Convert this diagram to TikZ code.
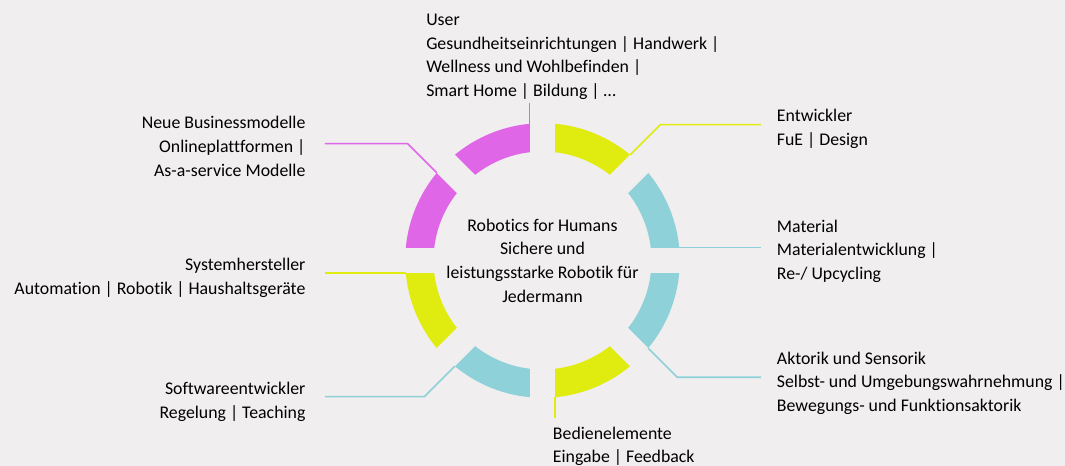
\documentclass[tikz,border=0pt]{standalone}
\usepackage{fontspec}
\setmainfont{Carlito}[Ligatures=NoCommon]
\definecolor{M}{RGB}{224,102,232}
\definecolor{Y}{RGB}{224,236,16}
\definecolor{C}{RGB}{143,209,217}
\definecolor{BG}{RGB}{240,238,239}

\begin{document}
\begin{tikzpicture}[x=0.75pt,y=0.75pt,
    txt/.style={inner sep=0pt,font=\fontsize{13.35}{17.8}\selectfont},
    links/.style={txt,align=right,anchor=east},
    rechts/.style={txt,align=left,anchor=west},
    verb/.style={line width=1.2pt}]

   % Hintergrund
   \fill[BG] (-542.5,-205.5) rectangle (522.5,260.5);
   \useasboundingbox (-542.5,-205.5) rectangle (522.5,260.5);

   % Ring aus acht Stuecken
   \foreach \a/\c in {0/C,45/Y,90/M,135/M,180/Y,225/C,270/Y,315/C}{
     \fill[\c] (\a:137.3) arc[start angle=\a, delta angle=45, radius=137.3]
        -- (\a+45:109) arc[start angle=\a+45, delta angle=-45, radius=109] -- cycle;
   }
   % Luecken zwischen den Stuecken
   \foreach \a in {0,45,...,315}
     \draw[BG, line width=19.2pt] (\a:100) -- (\a:145);

   % Mitte
   \node[txt,align=center] (mitte) at (0,0) {Robotics for Humans\\Sichere und\\leistungsstarke Robotik für\\Jedermann};

   % Texte rechts und oben
   \node[rechts] (user) at (-116.5,203.8) {User\\Gesundheitseinrichtungen | Handwerk |\\Wellness und Wohlbefinden |\\Smart Home | Bildung | …};
   \node[rechts] (entw) at (234.2,132) {Entwickler\\FuE | Design};
   \node[rechts] (mat) at (234.2,9.3) {Material\\Materialentwicklung |\\Re-/ Upcycling};
   \node[rechts] (akt) at (234.2,-122.7) {Aktorik und Sensorik\\Selbst- und Umgebungswahrnehmung |\\Bewegungs- und Funktionsaktorik};
   \node[rechts] (bed) at (10.2,-185.8) {Bedienelemente\\Eingabe | Feedback};

   % Texte links
   \node[links] (soft) at (-236.8,-141) {Softwareentwickler\\Regelung | Teaching};
   \node[links] (sys) at (-236.8,-17) {Systemhersteller\\Automation | Robotik | Haushaltsgeräte};
   \node[links] (biz) at (-236.8,114.3) {Neue Businessmodelle\\Onlineplattformen |\\As-a-service Modelle};

   % Ecken am Ring, Knicke und Enden
   \coordinate (kUser) at (-12.8,136.7); \coordinate (eUser) at (-12.8,157.2);
   \coordinate (kEntw) at (87.6,105.7); \coordinate (bEntw) at (117.7,135.8); \coordinate (eEntw) at (218.5,135.8);
   \coordinate (kMat) at (136.7,12.8); \coordinate (eMat) at (218.5,12.8);
   \coordinate (kAkt) at (105.7,-87.6); \coordinate (bAkt) at (134.9,-116.8); \coordinate (eAkt) at (218.5,-116.8);
   \coordinate (kBed) at (12.8,-136.7); \coordinate (eBed) at (12.8,-157.5);
   \coordinate (kSoft) at (-87.6,-105.7); \coordinate (bSoft) at (-118.1,-136.2); \coordinate (eSoft) at (-217.5,-136.2);
   \coordinate (kSys) at (-136.7,-12.8); \coordinate (eSys) at (-217.5,-12.8);
   \coordinate (kBiz) at (-105.7,87.6); \coordinate (bBiz) at (-134.9,116.8); \coordinate (eBiz) at (-217.5,116.8);

   % Verbindungen
   \draw[verb,M] (kUser) -- (eUser);
   \draw[verb,Y] (kEntw) -- (bEntw) -- (eEntw);
   \draw[verb,C] (kMat) -- (eMat);
   \draw[verb,C] (kAkt) -- (bAkt) -- (eAkt);
   \draw[verb,Y] (kBed) -- (eBed);
   \draw[verb,C] (kSoft) -- (bSoft) -- (eSoft);
   \draw[verb,Y] (kSys) -- (eSys);
   \draw[verb,M] (kBiz) -- (bBiz) -- (eBiz);
\end{tikzpicture}
\end{document}
